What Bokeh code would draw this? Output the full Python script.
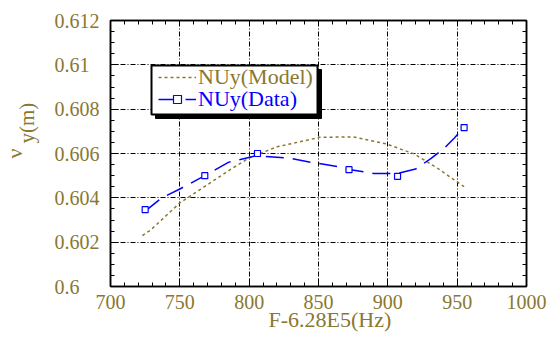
import numpy as np
from bokeh.plotting import figure
from bokeh.models import (LinearAxis, FixedTicker, Title, BoxAnnotation, Legend, LegendItem)
from bokeh.embed import file_html
from bokeh.resources import INLINE

# ---- data ----
data_x = [725, 768, 806, 872, 907, 955]
data_y = [0.60347, 0.6050, 0.6060, 0.60527, 0.60497, 0.60717]

data_curve_x = [725, 737, 750, 768, 785, 805, 828, 845, 865, 873, 890, 907, 920, 931, 940, 948, 955]
data_curve_y = [0.6034, 0.6040, 0.6044, 0.6050, 0.6056, 0.6059, 0.6058, 0.6056, 0.6054, 0.60527,
                0.6051, 0.6051, 0.6053, 0.60577, 0.6062, 0.6067, 0.6072]

model_x = [723, 729, 750, 787, 800, 820, 851, 875, 899, 919, 935, 955]
model_y = [0.6023, 0.60255, 0.60377, 0.6053, 0.6058, 0.6063, 0.60673, 0.60675, 0.60643, 0.60598,
           0.60537, 0.6045]

x_ticks = [700, 750, 800, 850, 900, 950, 1000]
x_tick_labels = ["700", "750", "800", "850", "900", "950", "1000"]
y_ticks = [0.6, 0.602, 0.604, 0.606, 0.608, 0.61, 0.612]
y_tick_labels = ["0.6", "0.602", "0.604", "0.606", "0.608", "0.61", "0.612"]

x_label = "F-6.28E5(Hz)"
y_label_main = "ν"
y_label_sub = "y(m)"
model_name = "NUy(Model)"
data_name = "NUy(Data)"

OLIVE = "#8A7730"
BLUE = "#0000FF"
FONT = "Liberation Serif"
FSP = "\u2007"  # figure space: keeps the y tick labels flush left

p = figure(width=559, height=339, x_range=(700, 1000), y_range=(0.6, 0.612),
           output_backend="svg", toolbar_location=None,
           min_border_left=110, min_border_right=33, min_border_top=20, min_border_bottom=53)
p.background_fill_color = "white"
p.border_fill_color = "white"
p.outline_line_color = "black"
p.outline_line_width = 1.5

x_minor = list(np.arange(700, 1001, 10))
y_minor = list(np.round(np.arange(0.6, 0.61201, 0.0005), 5))
xt = FixedTicker(ticks=x_ticks, minor_ticks=x_minor)
yt = FixedTicker(ticks=y_ticks, minor_ticks=y_minor)

xa = p.xaxis[0]
ya = p.yaxis[0]
xa.ticker = xt
ya.ticker = yt
xa.major_label_overrides = {t: s for t, s in zip(x_ticks, x_tick_labels)}
maxlen = max(len(s) for s in y_tick_labels)
ya.major_label_overrides = {t: s + FSP * (maxlen - len(s)) for t, s in zip(y_ticks, y_tick_labels)}

for ax in (xa, ya):
    ax.major_tick_in = 8
    ax.major_tick_out = 0
    ax.minor_tick_in = 4
    ax.minor_tick_out = 0
    ax.axis_line_width = 1.5
    ax.major_tick_line_width = 1
    ax.major_label_text_font = FONT
    ax.major_label_text_font_size = "20px"
    ax.major_label_text_color = OLIVE
xa.major_label_standoff = 8
ya.major_label_standoff = 11

# mirrored tick-only axes (no labels)
top = LinearAxis(ticker=FixedTicker(ticks=[], minor_ticks=x_minor), major_tick_in=0, major_tick_out=0,
                 minor_tick_in=4, minor_tick_out=0, major_label_standoff=0, axis_line_width=1.5)
right = LinearAxis(ticker=FixedTicker(ticks=[], minor_ticks=y_minor), major_tick_in=0, major_tick_out=0,
                   minor_tick_in=4, minor_tick_out=0, major_label_standoff=0, axis_line_width=1.5)
p.add_layout(top, "above")
p.add_layout(right, "right")

for g in (p.xgrid[0], p.ygrid[0]):
    g.grid_line_color = "black"
    g.grid_line_dash = "5 2 1 2"
    g.grid_line_width = 1
p.xgrid[0].ticker = xt
p.ygrid[0].ticker = yt

r_model = p.line(model_x, model_y, line_color=OLIVE, line_width=1.5, line_dash="3 3")
r_dline = p.line(data_curve_x, data_curve_y, line_color=BLUE, line_width=1.5, line_dash="18 9")
r_dpts = p.scatter(data_x, data_y, marker="square", size=6, line_color=BLUE, fill_color="white",
                   line_width=1.2)

# legend frame with shadow
shadow = BoxAnnotation(left=45, right=211, bottom=168, top=217,
                       left_units="screen", right_units="screen", bottom_units="screen", top_units="screen",
                       fill_color="black", fill_alpha=1, line_color="black", line_alpha=1)
box = BoxAnnotation(left=41, right=207, bottom=172, top=221,
                    left_units="screen", right_units="screen", bottom_units="screen", top_units="screen",
                    fill_color="white", fill_alpha=1, line_color="black", line_width=2, line_alpha=1)
p.add_layout(shadow)
p.add_layout(box)

def mk_legend(items, color, loc):
    return Legend(items=items, location=loc, label_text_font=FONT, label_text_font_size="22px",
                  label_text_color=color, background_fill_alpha=0, border_line_color=None,
                  padding=0, margin=0, spacing=0, glyph_width=38, glyph_height=20,
                  label_standoff=2, label_height=20)

lg1 = mk_legend([LegendItem(label=model_name, renderers=[r_model])], OLIVE, (48, 196))
lg2 = mk_legend([LegendItem(label=data_name, renderers=[r_dline, r_dpts])], BLUE, (48, 174))
p.add_layout(lg1, "center")
p.add_layout(lg2, "center")

# axis titles
p.add_layout(Title(text=x_label, align="left", offset=158, vertical_align="top", standoff=-10,
                   text_font=FONT, text_font_size="22px", text_color=OLIVE,
                   text_font_style="normal"), "below")
p.add_layout(Title(text=y_label_sub, align="left", offset=143, vertical_align="bottom", standoff=25,
                   text_font=FONT, text_font_size="21px", text_color=OLIVE,
                   text_font_style="normal"), "left")
p.add_layout(Title(text=y_label_main, align="left", offset=128, vertical_align="bottom", standoff=-53,
                   text_font=FONT, text_font_size="22px", text_color=OLIVE,
                   text_font_style="normal"), "left")

open("out.html", "w").write(file_html(p, INLINE))
